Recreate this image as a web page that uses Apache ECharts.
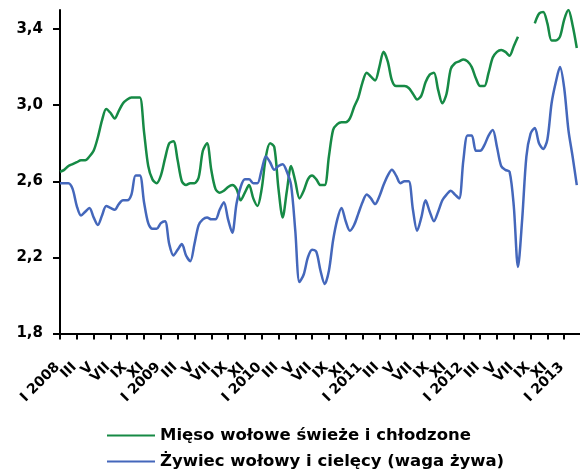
<!DOCTYPE html>
<html>
<head>
<meta charset="utf-8">
<script src="https://cdn.jsdelivr.net/npm/echarts@6.0.0/dist/echarts.min.js"></script>
<style>
  html, body { margin: 0; padding: 0; background: #fff; }
  #chart { width: 580px; height: 472px; }
</style>
</head>
<body>
<div id="chart"></div>
<script>
// tick labels, one every two months (each tick = 4 half-month points)
const tickLabels = [
  'I 2008', 'III', 'V', 'VII', 'IX', 'XI',
  'I 2009', 'III', 'V', 'VII', 'IX', 'XI',
  'I 2010', 'III', 'V', 'VII', 'IX', 'XI',
  'I 2011', 'III', 'V', 'VII', 'IX', 'XI',
  'I 2012', 'III', 'V', 'VII', 'IX', 'XI',
  'I 2013'
];

const yTicks = [1.8, 2.2, 2.6, 3.0, 3.4];

const seriesNames = ['Mięso wołowe świeże i chłodzone', 'Żywiec wołowy i cielęcy (waga żywa)'];

// Mięso wołowe świeże i chłodzone (half-month points)
const meat = [
  2.65, 2.66, 2.68, 2.69, 2.70, 2.71, 2.71, 2.73, 2.76, 2.83,
  2.92, 2.98, 2.96, 2.93, 2.97, 3.01, 3.03, 3.04, 3.04, 3.04,
  2.86, 2.68, 2.61, 2.59, 2.63, 2.72, 2.80, 2.81, 2.71, 2.60,
  2.58, 2.59, 2.59, 2.62, 2.76, 2.80, 2.66, 2.56, 2.54, 2.55,
  2.57, 2.58, 2.56, 2.50, 2.54, 2.58, 2.51, 2.47, 2.56, 2.73,
  2.80, 2.78, 2.56, 2.41, 2.55, 2.68, 2.60, 2.51, 2.55, 2.61,
  2.63, 2.61, 2.58, 2.58, 2.73, 2.87, 2.90, 2.91, 2.91, 2.93,
  2.99, 3.04, 3.12, 3.17, 3.15, 3.13, 3.20, 3.28, 3.23, 3.13,
  3.10, 3.10, 3.10, 3.09, 3.06, 3.03, 3.05, 3.12, 3.16, 3.17,
  3.08, 3.01, 3.06, 3.19, 3.22, 3.23, 3.24, 3.23, 3.20, 3.14,
  3.10, 3.10, 3.17, 3.25, 3.28, 3.29, 3.28, 3.26, 3.31, 3.36,
  null, null, null, 3.43, 3.48, 3.49, 3.43, 3.34, 3.34, 3.36,
  3.45, 3.50, 3.42, 3.30, null
];

// Żywiec wołowy i cielęcy (waga żywa)
const cattle = [
  2.59, 2.59, 2.59, 2.56, 2.47, 2.42, 2.44, 2.46, 2.41, 2.37,
  2.42, 2.47, 2.46, 2.45, 2.48, 2.50, 2.50, 2.53, 2.63, 2.63,
  2.49, 2.38, 2.35, 2.35, 2.38, 2.39, 2.27, 2.21, 2.24, 2.27,
  2.21, 2.18, 2.27, 2.37, 2.40, 2.41, 2.40, 2.40, 2.45, 2.49,
  2.40, 2.33, 2.48, 2.57, 2.61, 2.61, 2.59, 2.59, 2.66, 2.73,
  2.70, 2.66, 2.68, 2.69, 2.65, 2.58, 2.34, 2.07, 2.11, 2.20,
  2.24, 2.23, 2.13, 2.06, 2.13, 2.29, 2.40, 2.46, 2.39, 2.34,
  2.37, 2.43, 2.49, 2.53, 2.51, 2.48, 2.52, 2.58, 2.63, 2.66,
  2.63, 2.59, 2.60, 2.60, 2.45, 2.34, 2.41, 2.50, 2.44, 2.39,
  2.44, 2.50, 2.53, 2.55, 2.53, 2.51, 2.71, 2.84, 2.84, 2.76,
  2.76, 2.79, 2.84, 2.87, 2.78, 2.68, 2.66, 2.65, 2.47, 2.15,
  2.40, 2.73, 2.85, 2.88, 2.80, 2.77, 2.82, 3.01, 3.12, 3.20,
  3.09, 2.87, 2.73, 2.58, null
];

// category keys, one per half-month; a blank slot in front keeps
// the "I 2008" label from being treated as the axis min label
const categories = ['start'].concat(meat.map((_, i) => 'p' + i));

const font = "'DejaVu Sans', 'Liberation Sans', Arial, sans-serif";
const colors = ['#168a45', '#4467bb'];
const step = 520.8 / 124;

const chart = echarts.init(document.getElementById('chart'), null, { renderer: 'canvas' });

chart.setOption({
  animation: false,
  color: colors,
  grid: {
    left: 60 - step,
    right: -1,
    top: 10,
    bottom: 138.5,
    containLabel: false,
    outerBoundsMode: 'none'
  },
  legend: {
    orient: 'vertical',
    left: 107,
    top: 427,
    padding: 0,
    itemWidth: 48,
    itemHeight: 14,
    itemGap: 9,
    icon: 'path://M0,6 L48,6 L48,8 L0,8 Z',
    data: seriesNames,
    textStyle: {
      fontFamily: font,
      fontWeight: 'bold',
      fontSize: 16.5,
      color: '#000',
      lineHeight: 17
    }
  },
  xAxis: {
    type: 'category',
    data: categories,
    boundaryGap: false,
    axisLine: { lineStyle: { color: '#000', width: 2 } },
    axisTick: {
      interval: (idx) => idx % 4 === 1,
      length: 6,
      lineStyle: { color: '#000', width: 2 }
    },
    axisLabel: {
      interval: (idx) => idx === 0 || idx % 4 === 1,
      rotate: 45,
      margin: 29,
      padding: [0, 3.5, 0, 0],
      hideOverlap: false,
      color: '#000',
      fontFamily: font,
      fontWeight: 'bold',
      fontSize: 14,
      formatter: (v, idx) => tickLabels[(idx - 1) / 4] || ''
    },
    splitLine: { show: false }
  },
  yAxis: {
    type: 'value',
    min: 1.8,
    max: 3.5,
    offset: -step,
    axisLine: { show: true, lineStyle: { color: '#000', width: 2 } },
    axisTick: { show: true, length: 7, customValues: yTicks, lineStyle: { color: '#000', width: 2 } },
    axisLabel: {
      customValues: yTicks,
      margin: 17,
      color: '#000',
      fontFamily: font,
      fontWeight: 'bold',
      fontSize: 15,
      formatter: v => v.toFixed(1).replace('.', ',')
    },
    splitLine: { show: false }
  },
  series: [
    {
      name: seriesNames[0],
      type: 'line',
      data: [null].concat(meat),
      symbol: 'none',
      smooth: 0.3,
      lineStyle: { width: 2.5, color: colors[0] }
    },
    {
      name: seriesNames[1],
      type: 'line',
      data: [null].concat(cattle),
      symbol: 'none',
      smooth: 0.3,
      lineStyle: { width: 2.5, color: colors[1] }
    }
  ]
});
</script>
</body>
</html>
